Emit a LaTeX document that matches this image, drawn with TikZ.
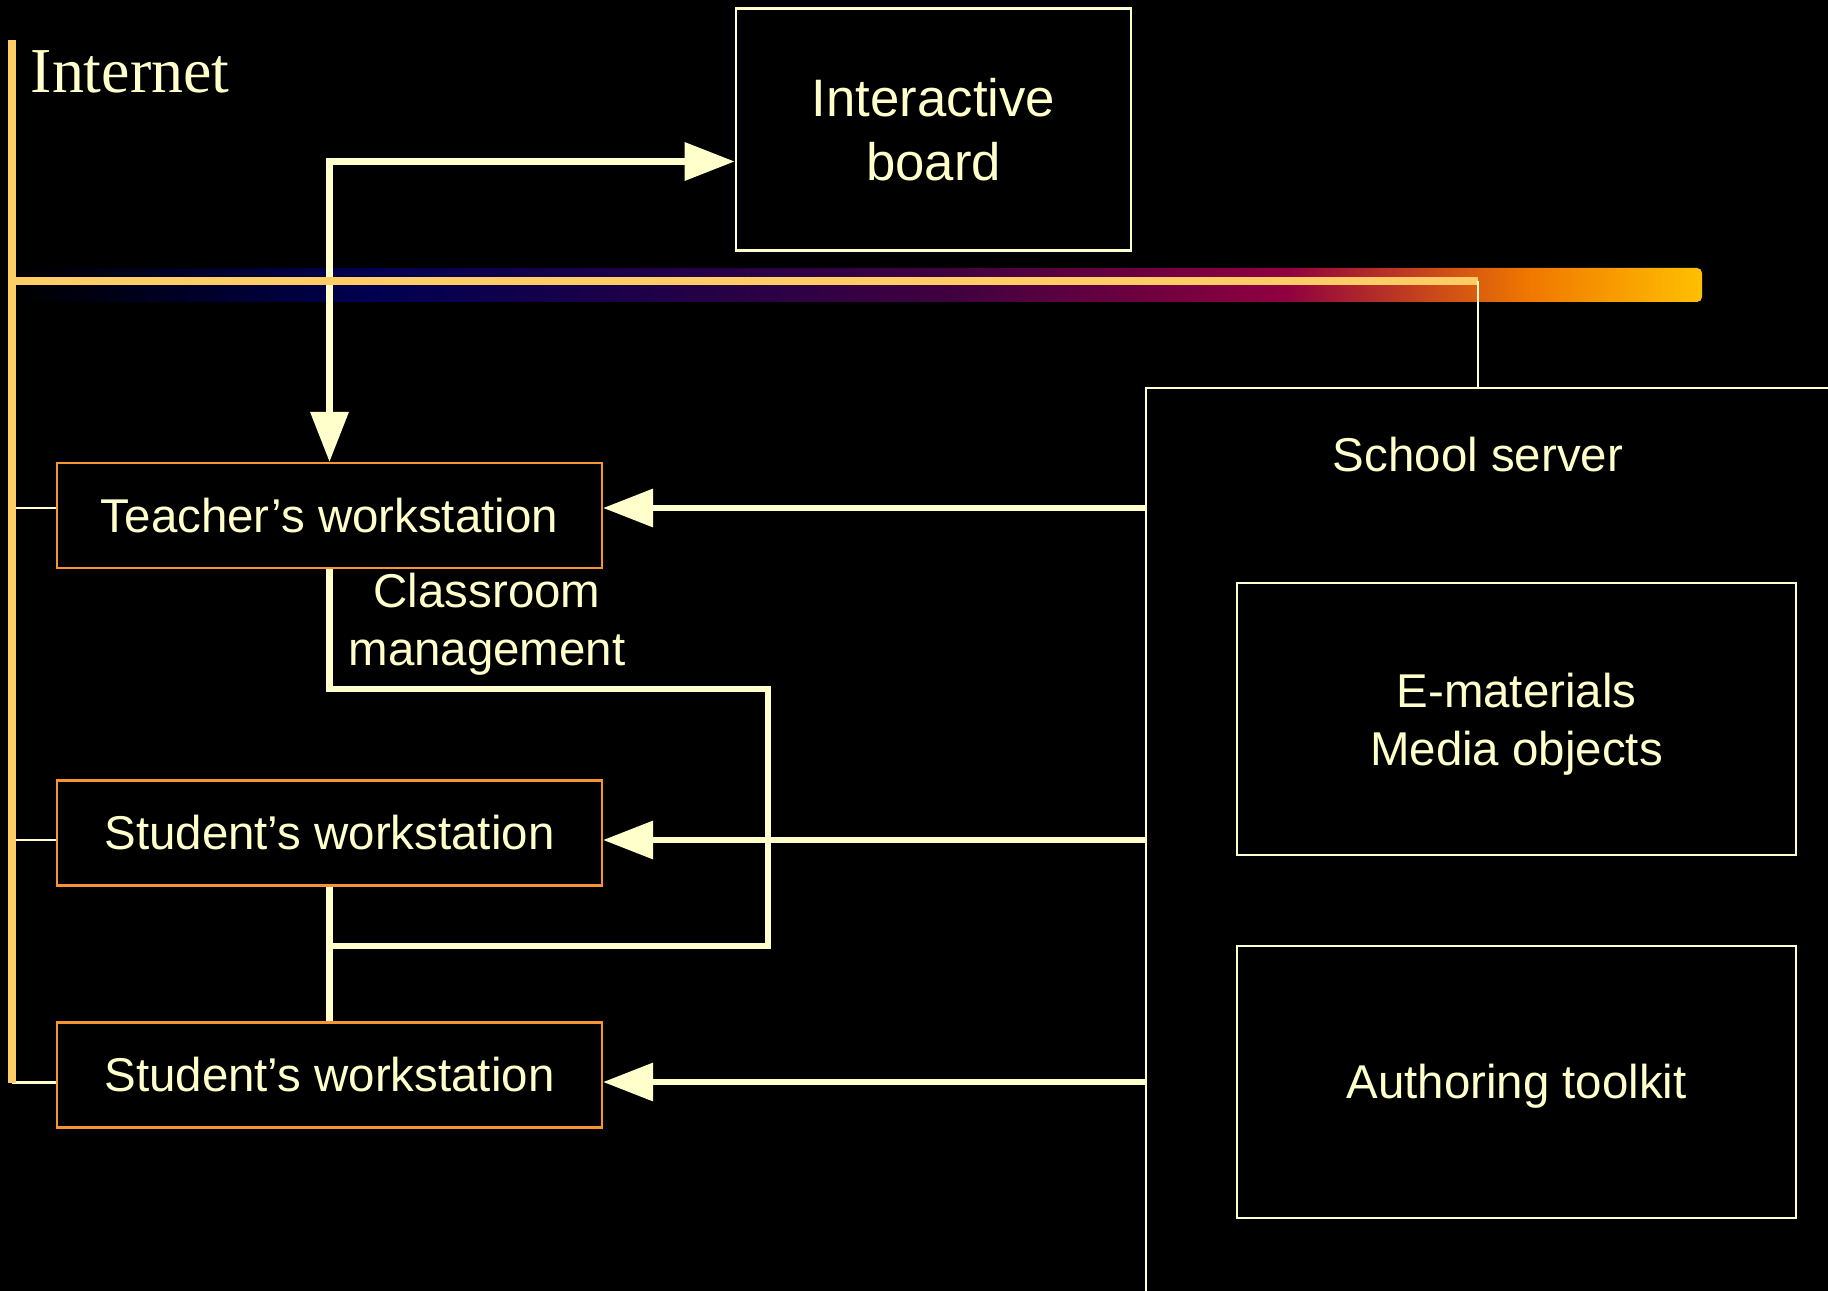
\documentclass[tikz,border=0pt]{standalone}
\usepackage{fontspec}
\setmainfont{Liberation Serif}
\setsansfont{Liberation Sans}
\usetikzlibrary{arrows.meta}
\definecolor{cream}{RGB}{255,255,204}
\definecolor{netgold}{RGB}{255,204,102}
\definecolor{wsorange}{RGB}{245,150,50}
\definecolor{glownavy}{RGB}{0,0,80}
\definecolor{glowpurple}{RGB}{64,0,64}
\definecolor{glowred}{RGB}{144,0,64}
\definecolor{gloworange}{RGB}{240,120,0}
\definecolor{glowgold}{RGB}{255,192,0}
\pgfdeclarehorizontalshading{busglow}{100bp}{color(0bp)=(black); color(25bp)=(black);
  color(35.5bp)=(glownavy); color(52.75bp)=(glowpurple); color(62.7bp)=(glowred);
  color(69.9bp)=(gloworange); color(75bp)=(glowgold); color(100bp)=(glowgold)}
\tikzset{%
    ws node/.style={rectangle,draw=wsorange,line width=0.6pt,
        minimum width=5.45cm,minimum height=1.05cm},
    feed/.style={->,draw=cream,line width=1.85pt},
    tick/.style={draw=cream,line width=0.85pt}
}

\begin{document}
\begin{tikzpicture}[>={Triangle[length=0.5cm,width=0.37cm]},
  font=\sffamily\fontsize{13.5}{16.5}\selectfont,text=cream,
  main node/.style={rectangle,draw=cream,line width=0.6pt}]

  \useasboundingbox (0,0) rectangle (18.28,-12.91);
  \clip (0,0) rectangle (18.28,-12.91);
  \fill[black] (0,0) rectangle (18.28,-12.91);

  % glow under the network line
  \shade[shading=busglow,rounded corners=0.05cm] (0.12,-2.68) rectangle (17.02,-3.02);

  \node[anchor=base west,inner sep=0pt,font=\rmfamily\fontsize{18.2}{20}\selectfont] (net) at (0.30,-0.93) {Internet};
  \node[main node,line width=0.75pt,minimum width=3.95cm,minimum height=2.42cm,align=center,
    font=\sffamily\fontsize{15}{18.2}\selectfont] (1) at (9.335,-1.295) {Interactive\\board};
  \node[ws node] (2) at (3.295,-5.155) {Teacher’s workstation};
  \node[ws node] (3) [below of=2,node distance=3.175cm] {Student’s workstation};
  \node[ws node] (4) [below of=3,node distance=2.42cm] {Student’s workstation};
  \node[main node,anchor=north west,minimum width=7cm,minimum height=9.3cm] (5) at (11.45,-3.87) {};
  \node (ss) at (14.78,-4.55) {School server};
  \node[main node,line width=0.55pt,minimum width=5.59cm,minimum height=2.72cm] (6) at (15.165,-7.19) {};
  \node[align=center] (em) at (15.165,-7.245) {E-materials\\Media objects};
  \node[main node,line width=0.55pt,minimum width=5.59cm,minimum height=2.72cm,
    text height=0.42cm] (7) [below of=6,node distance=3.63cm] {Authoring toolkit};
  \node[align=center] (cm) at (4.87,-6.245) {Classroom\\management};

  \coordinate (nt) at (0.12,-0.40);
  \coordinate (nb) at (0.12,-10.83);
  \coordinate (bus) at (14.78,-2.81);
  \foreach \n/\dy in {2/0.075,3/-0.07,4/-0.07}
    \path ([yshift=\dy cm]\n.west) coordinate (a\n)
          ([yshift=\dy cm]\n.east) coordinate (b\n);

  \draw[<->,cream,line width=1.85pt] (2.north) |- ([yshift=-0.32cm]1.west);
  \path
    (5.west |- b2) edge[feed] (b2)
    (5.west |- b3) edge[feed] (b3)
    (5.west |- b4) edge[feed] (b4);
  \draw[cream,line width=1.85pt] (2.south) |- (7.68,-6.89) |- (3.295,-9.46);
  \draw[cream,line width=1.85pt] (3.south) -- (4.north);

  % network
  \foreach \n in {2,3,4}
    \draw[tick] (nt |- a\n) -- (a\n);
  \draw[netgold,line width=2.3pt] (nt |- bus) -- (bus);
  \draw[cream,line width=0.75pt] (bus) -- (bus |- 5.north);
  \draw[netgold,line width=2pt] (nt) -- (nb);
\end{tikzpicture}
\end{document}
